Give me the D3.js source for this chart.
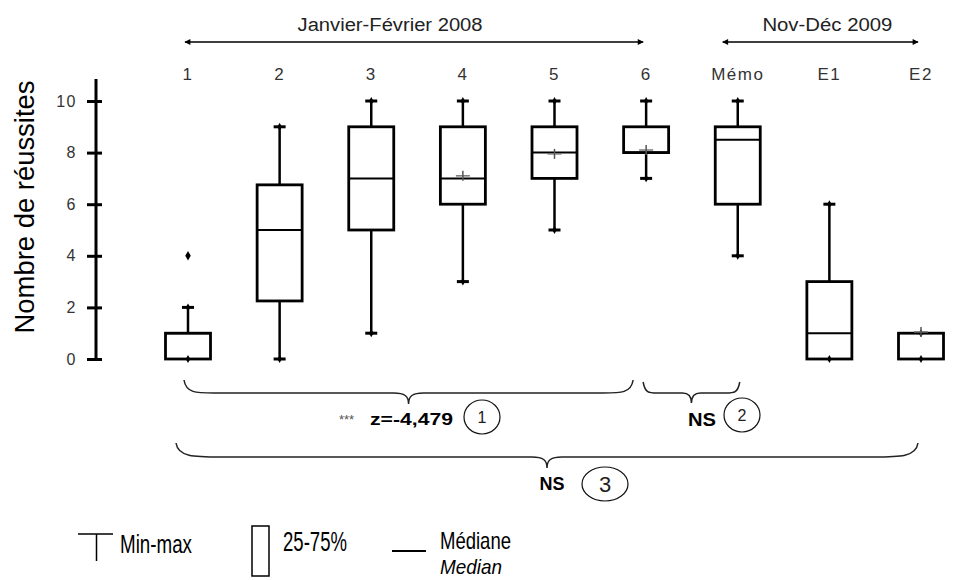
<html lang="fr">
<head>
<meta charset="utf-8">
<title>Nombre de réussites</title>
<script src="https://d3js.org/d3.v7.min.js"></script>
<style>
  body { margin: 0; background: #fff; }
  svg { font-family: "Liberation Sans", Arial, sans-serif; }
</style>
</head>
<body>
<script>
// data
var categories = ["1", "2", "3", "4", "5", "6", "Mémo", "E1", "E2"];
var mins    = [0, 0,    1, 3, 5, 7, 4,   0, 0];
var q1s     = [0, 2.25, 5, 6, 7, 8, 6,   0, 0];
var medians = [1, 5,    7, 7, 8, 8, 8.5, 1, 0];
var q3s     = [1, 6.75, 9, 9, 9, 9, 9,   3, 1];
var maxs    = [2, 9,   10,10,10,10,10,   6, 1];
var means   = [null, null, null, 7.1, 7.95, 8.1, null, null, 1.05];
var outlierCats = ["1"];
var outlierVals = [4];
var yTicks = [0, 2, 4, 6, 8, 10];

var width = 953, height = 580;

var svg = d3.select("body").append("svg")
    .attr("width", width)
    .attr("height", height);

var x = d3.scalePoint().domain(categories).range([188, 921]);
var y = d3.scaleLinear().domain([0, 10]).range([359, 101]);
var boxW = 45, capW = 12;

// y axis
var axis = svg.append("g")
    .attr("transform", "translate(96,0)")
    .call(d3.axisLeft(y).tickValues(yTicks).tickSize(9).tickPadding(10));
axis.select(".domain").remove();
axis.selectAll(".tick line")
    .attr("x1", 6).attr("x2", -9)
    .attr("stroke", "#000").attr("stroke-width", 3);
axis.selectAll(".tick text")
    .attr("x", -19)
    .attr("font-size", 16)
    .attr("letter-spacing", 1.5)
    .attr("fill", "#333")
    .attr("font-family", "Liberation Sans, Arial, sans-serif");
axis.append("line")
    .attr("y1", y(10.85)).attr("y2", y(0))
    .attr("stroke", "#000").attr("stroke-width", 3);

svg.append("text")
    .attr("transform", "translate(34," + ((y(0) + y(10.85)) / 2 - 12) + ") rotate(-90)")
    .attr("text-anchor", "middle")
    .attr("font-size", 27)
    .attr("textLength", 253)
    .attr("lengthAdjust", "spacingAndGlyphs")
    .text("Nombre de réussites");

// category labels on top
svg.append("g").selectAll("text")
    .data(categories)
    .enter().append("text")
    .attr("x", function(d) { return x(d); })
    .attr("y", 80)
    .attr("text-anchor", "middle")
    .attr("font-size", 17)
    .attr("letter-spacing", 1.5)
    .attr("fill", "#333")
    .text(function(d) { return d; });

// period arrows
var defs = svg.append("defs");
defs.append("marker")
    .attr("id", "ah")
    .attr("viewBox", "0 0 10 10")
    .attr("refX", 9).attr("refY", 5)
    .attr("markerWidth", 5).attr("markerHeight", 4)
    .attr("orient", "auto-start-reverse")
    .append("path").attr("d", "M0,0L10,5L0,10z").attr("fill", "#000");

var periods = [
  {label: "Janvier-Février 2008", from: "1", to: "6", d0: -3, d1: -3, w: 185},
  {label: "Nov-Déc 2009", from: "Mémo", to: "E2", d0: -15, d1: -3, w: 130}
];
periods.forEach(function(p) {
  var a = x(p.from) + p.d0, b = x(p.to) + p.d1;
  svg.append("line")
      .attr("x1", a).attr("x2", b).attr("y1", 42).attr("y2", 42)
      .attr("stroke", "#000").attr("stroke-width", 1.5)
      .attr("marker-start", "url(#ah)").attr("marker-end", "url(#ah)");
  svg.append("text")
      .attr("x", (a + b) / 2 + (p.from == "1" ? -24 : 7))
      .attr("y", 31)
      .attr("text-anchor", "middle")
      .attr("font-size", 18)
      .attr("fill", "#222")
      .attr("textLength", p.w)
      .attr("lengthAdjust", "spacingAndGlyphs")
      .text(p.label);
});

// boxes
var rows = categories.map(function(c, i) {
  return {cat: c, min: mins[i], q1: q1s[i], med: medians[i], q3: q3s[i], max: maxs[i], mean: means[i]};
});

var g = svg.append("g");
rows.forEach(function(d) {
  var cx = x(d.cat);
  if (d.max > d.q3) {
    g.append("line").attr("x1", cx).attr("x2", cx).attr("y1", y(d.q3)).attr("y2", y(d.max))
        .attr("stroke", "#000").attr("stroke-width", 2.5);
    g.append("line").attr("x1", cx - capW / 2).attr("x2", cx + capW / 2).attr("y1", y(d.max)).attr("y2", y(d.max))
        .attr("stroke", "#000").attr("stroke-width", 3);
  }
  if (d.min < d.q1) {
    g.append("line").attr("x1", cx).attr("x2", cx).attr("y1", y(d.q1)).attr("y2", y(d.min))
        .attr("stroke", "#000").attr("stroke-width", 2.5);
    g.append("line").attr("x1", cx - capW / 2).attr("x2", cx + capW / 2).attr("y1", y(d.min)).attr("y2", y(d.min))
        .attr("stroke", "#000").attr("stroke-width", 3);
  }
  g.append("rect")
      .attr("x", cx - boxW / 2).attr("width", boxW)
      .attr("y", y(d.q3)).attr("height", y(d.q1) - y(d.q3))
      .attr("fill", "#fff").attr("stroke", "#000").attr("stroke-width", 2.8);
  g.append("line")
      .attr("x1", cx - boxW / 2).attr("x2", cx + boxW / 2)
      .attr("y1", y(d.med)).attr("y2", y(d.med))
      .attr("stroke", "#000").attr("stroke-width", 2);
  // small dots on the extremes
  [d.min, d.max].forEach(function(v) {
    g.append("path")
        .attr("d", d3.symbol(d3.symbolDiamond, 18)())
        .attr("transform", "translate(" + cx + "," + y(v) + ")")
        .attr("fill", "#000");
  });
  if (d.mean != null) {
    g.append("line").attr("x1", cx - 7).attr("x2", cx + 7).attr("y1", y(d.mean)).attr("y2", y(d.mean))
        .attr("stroke", "#777").attr("stroke-width", 1.5);
    g.append("line").attr("x1", cx).attr("x2", cx).attr("y1", y(d.mean) - 5).attr("y2", y(d.mean) + 5)
        .attr("stroke", "#555").attr("stroke-width", 1.5);
  }
});

// outliers
outlierCats.forEach(function(c, i) {
  g.append("path")
      .attr("d", d3.symbol(d3.symbolDiamond, 26)())
      .attr("transform", "translate(" + x(c) + "," + y(outlierVals[i]) + ")")
      .attr("fill", "#000");
});

// braces with test results
var braces = [
  {from: "1", to: "6", d0: -4, d1: -13, top: 380, flat: 393, tip: 404, q: 30},
  {from: "6", to: "Mémo", d0: -3, d1: 2, top: 382, flat: 393, tip: 403, q: 14},
  {from: "1", to: "E2", d0: -12, d1: -3, top: 443, flat: 457, tip: 468, q: 45}
];
function bracePath(b) {
  var x0 = x(b.from) + b.d0, x1 = x(b.to) + b.d1, xm = (x0 + x1) / 2;
  var h = b.q < 20 ? 9 : 15;
  return "M" + x0 + "," + b.top +
    "C" + (x0 + 2) + "," + b.flat + " " + (x0 + b.q * 0.4) + "," + b.flat + " " + (x0 + b.q) + "," + b.flat +
    "L" + (xm - h) + "," + b.flat +
    "C" + (xm - 4) + "," + b.flat + " " + xm + "," + (b.flat + 3) + " " + xm + "," + b.tip +
    "C" + xm + "," + (b.flat + 3) + " " + (xm + 4) + "," + b.flat + " " + (xm + h) + "," + b.flat +
    "L" + (x1 - b.q) + "," + b.flat +
    "C" + (x1 - b.q * 0.4) + "," + b.flat + " " + (x1 - 2) + "," + b.flat + " " + x1 + "," + b.top;
}
svg.append("g").selectAll("path")
    .data(braces)
    .enter().append("path")
    .attr("d", bracePath)
    .attr("fill", "none")
    .attr("stroke", "#222")
    .attr("stroke-width", 1.5);

svg.append("text").attr("x", 339).attr("y", 424)
    .attr("font-size", 13).attr("fill", "#555").text("***");
svg.append("text").attr("x", 370).attr("y", 425)
    .attr("font-size", 17).attr("font-weight", "bold")
    .attr("textLength", 83).attr("lengthAdjust", "spacingAndGlyphs")
    .text("z=-4,479");
svg.append("text").attr("x", 702).attr("y", 426)
    .attr("text-anchor", "middle")
    .attr("font-size", 18).attr("font-weight", "bold")
    .attr("textLength", 28).attr("lengthAdjust", "spacingAndGlyphs")
    .text("NS");
svg.append("text").attr("x", 552).attr("y", 490)
    .attr("text-anchor", "middle")
    .attr("font-size", 18).attr("font-weight", "bold")
    .text("NS");

var circles = [
  {n: "1", cx: 482, cy: 417, rx: 18, ry: 17, fs: 16},
  {n: "2", cx: 742, cy: 415, rx: 18, ry: 17, fs: 16},
  {n: "3", cx: 605, cy: 484, rx: 23, ry: 17, fs: 22}
];
circles.forEach(function(c) {
  svg.append("ellipse")
      .attr("cx", c.cx).attr("cy", c.cy).attr("rx", c.rx).attr("ry", c.ry)
      .attr("fill", "none").attr("stroke", "#111").attr("stroke-width", 1.2);
  svg.append("text")
      .attr("x", c.cx).attr("y", c.cy + c.fs * 0.36)
      .attr("text-anchor", "middle")
      .attr("font-size", c.fs)
      .attr("fill", "#222")
      .text(c.n);
});

// legend
var leg = svg.append("g");
leg.append("line").attr("x1", 78).attr("x2", 113).attr("y1", 534).attr("y2", 534)
    .attr("stroke", "#000").attr("stroke-width", 1.5);
leg.append("line").attr("x1", 96.5).attr("x2", 96.5).attr("y1", 534).attr("y2", 561)
    .attr("stroke", "#000").attr("stroke-width", 1.5);
leg.append("text").attr("x", 120).attr("y", 553)
    .attr("font-size", 26).attr("textLength", 72).attr("lengthAdjust", "spacingAndGlyphs")
    .text("Min-max");
leg.append("rect").attr("x", 252).attr("y", 526).attr("width", 17).attr("height", 50)
    .attr("fill", "none").attr("stroke", "#000").attr("stroke-width", 1.5);
leg.append("text").attr("x", 283).attr("y", 551)
    .attr("font-size", 27).attr("textLength", 64).attr("lengthAdjust", "spacingAndGlyphs")
    .text("25-75%");
leg.append("line").attr("x1", 392).attr("x2", 426).attr("y1", 551).attr("y2", 551)
    .attr("stroke", "#000").attr("stroke-width", 2);
leg.append("text").attr("x", 440).attr("y", 549)
    .attr("font-size", 24).attr("textLength", 71).attr("lengthAdjust", "spacingAndGlyphs")
    .text("Médiane");
leg.append("text").attr("x", 440).attr("y", 574)
    .attr("font-size", 21).attr("font-style", "italic")
    .attr("textLength", 62).attr("lengthAdjust", "spacingAndGlyphs")
    .text("Median");
</script>
</body>
</html>
